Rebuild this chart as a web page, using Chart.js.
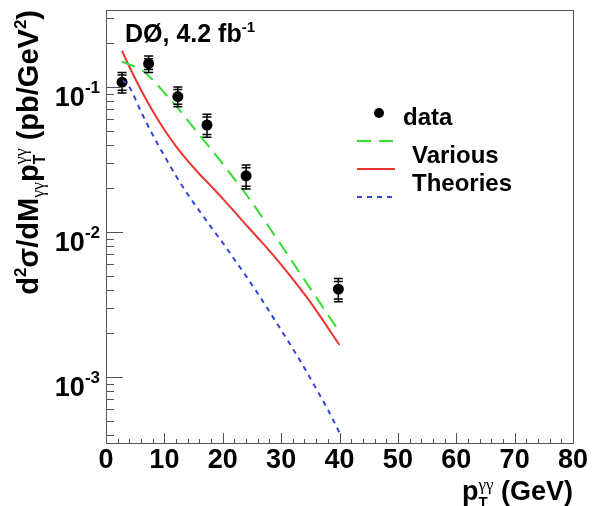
<!DOCTYPE html>
<html><head><meta charset="utf-8">
<script src="https://cdn.jsdelivr.net/npm/chart.js@4.4.1/dist/chart.umd.min.js"></script>
<style>html,body{margin:0;padding:0;background:#fff;}#wrap{width:598px;height:506px;}</style>
</head><body><div id="wrap"><canvas id="c" width="598" height="506"></canvas></div>
<script>
// ---- data ----
const curveX = [2.75, 4, 6, 8, 10, 12, 14, 16, 18, 20, 22, 24, 26, 28, 30, 32, 34, 36, 38, 40];
const greenY = [0.150, 0.143, 0.132, 0.112, 0.0912, 0.0741, 0.0589, 0.0468, 0.0372, 0.0295, 0.0232, 0.0182, 0.0140, 0.0107, 0.00813, 0.00617, 0.00468, 0.00355, 0.00269, 0.00204];
const redY = [0.178, 0.138, 0.0955, 0.0684, 0.0507, 0.0389, 0.0309, 0.0251, 0.0207, 0.0170, 0.0138, 0.0112, 0.00912, 0.00741, 0.00596, 0.00473, 0.00372, 0.00288, 0.00219, 0.00166];
const blueY = [0.112, 0.100, 0.0676, 0.0468, 0.0335, 0.0243, 0.0182, 0.0140, 0.0108, 0.00841, 0.00646, 0.00496, 0.00376, 0.00282, 0.00211, 0.00157, 0.00115, 0.00083, 0.000596, 0.000412];

const dataX = [2.75, 7.3, 12.3, 17.3, 24, 39.8];
const dataY = [0.108, 0.145, 0.086, 0.0547, 0.0244, 0.00403];
const totHi = [0.126, 0.164, 0.100, 0.065, 0.029, 0.00477];
const totLo = [0.091, 0.126, 0.073, 0.045, 0.0198, 0.0033];
const statHi = [0.121, 0.157, 0.096, 0.062, 0.0277, 0.00456];
const statLo = [0.095, 0.132, 0.076, 0.047, 0.0207, 0.00345];

const xMajor = [0, 10, 20, 30, 40, 50, 60, 70, 80];
const xTickLabels = ['0', '10', '20', '30', '40', '50', '60', '70', '80'];
const yMajor = [1e-3, 1e-2, 1e-1];
const yTickExp = ['-3', '-2', '-1'];
const legendLabels = ['data', 'Various', 'Theories'];
const expText = 'DØ, 4.2 fb';
const expSup = '-1';

const X_MIN = 0, X_MAX = 80, Y_MIN = 3.5e-4, Y_MAX = 0.34;

const F = 'Liberation Sans';
function rich(ctx, segs, x, y, align) {
  let w = 0;
  for (const s of segs) { ctx.font = s.f; s.w = ctx.measureText(s.t).width; w += (s.adv !== undefined ? s.adv : s.w); }
  let cx = align === 'right' ? x - w : (align === 'center' ? x - w / 2 : x);
  for (const s of segs) {
    ctx.font = s.f; ctx.fillText(s.t, cx, y + (s.dy || 0));
    cx += (s.adv !== undefined ? s.adv : s.w);
  }
}

const deco = {
  id: 'deco',
  afterDatasetsDraw(chart) {
    const ctx = chart.ctx, xs = chart.scales.x, ys = chart.scales.y, a = chart.chartArea;
    ctx.save();
    // error bars
    ctx.strokeStyle = '#000'; ctx.lineWidth = 1.5;
    for (let i = 0; i < dataX.length; i++) {
      const px = xs.getPixelForValue(dataX[i]);
      const yh = ys.getPixelForValue(totHi[i]), yl = ys.getPixelForValue(totLo[i]);
      const sh = ys.getPixelForValue(statHi[i]), sl = ys.getPixelForValue(statLo[i]);
      ctx.beginPath(); ctx.moveTo(px, yh); ctx.lineTo(px, yl);
      for (const yy of [yh, yl, sh, sl]) { ctx.moveTo(px - 4.5, yy); ctx.lineTo(px + 4.5, yy); }
      ctx.stroke();
    }
    // frame
    ctx.strokeStyle = '#555'; ctx.lineWidth = 1;
    ctx.strokeRect(Math.round(a.left) + 0.5, Math.round(a.top) + 0.5, Math.round(a.right - a.left), Math.round(a.bottom - a.top));
    // x ticks
    ctx.beginPath();
    for (let v = X_MIN; v <= X_MAX + 1e-9; v += 2) {
      const px = Math.round(xs.getPixelForValue(v)) + 0.5;
      const len = (v % 10 === 0) ? 10 : 4;
      ctx.moveTo(px, a.bottom); ctx.lineTo(px, a.bottom - len);
    }
    // y ticks
    for (let e = -4; e <= -1; e++) {
      for (let m = 1; m <= 9; m++) {
        const v = m * Math.pow(10, e);
        if (v < Y_MIN || v > Y_MAX) continue;
        const py = Math.round(ys.getPixelForValue(v)) + 0.5;
        const len = m === 1 ? 17 : 8;
        ctx.moveTo(a.left, py); ctx.lineTo(a.left + len, py);
      }
    }
    ctx.stroke();
    // tick labels
    ctx.fillStyle = '#000'; ctx.textBaseline = 'alphabetic';
    ctx.textAlign = 'left';
    xMajor.forEach((v, i) => {
      rich(ctx, [{t: xTickLabels[i], f: 'bold 27px ' + F}], xs.getPixelForValue(v), a.bottom + 25, 'center');
    });
    yMajor.forEach((v, i) => {
      const py = ys.getPixelForValue(v);
      rich(ctx, [{t: '10', f: 'bold 27px ' + F}, {t: yTickExp[i], f: 'bold 17px ' + F, dy: -13}], a.left - 6, py + 19, 'right');
    });
    // x title
    rich(ctx, [
      {t: 'p', f: 'bold 27px ' + F},
      {t: 'T', f: 'bold 15px ' + F, dy: 7, adv: 0},
      {t: 'γγ', f: '17px "Liberation Serif"', dy: -10},
      {t: ' (GeV)', f: 'bold 27px ' + F}
    ], a.right, 500, 'right');
    // y title (rotated)
    ctx.save();
    ctx.translate(38, a.top);
    ctx.rotate(-Math.PI / 2);
    rich(ctx, [
      {t: 'd', f: 'bold 29px ' + F},
      {t: '2', f: 'bold 17px ' + F, dy: -12},
      {t: 'σ/dM', f: 'bold 29px ' + F},
      {t: 'γγ', f: '18px "Liberation Serif"', dy: 6},
      {t: 'p', f: 'bold 29px ' + F},
      {t: 'T', f: 'bold 16px ' + F, dy: 7, adv: 0},
      {t: 'γγ', f: '18px "Liberation Serif"', dy: -11},
      {t: ' (pb/GeV', f: 'bold 29px ' + F},
      {t: '2', f: 'bold 17px ' + F, dy: -12},
      {t: ')', f: 'bold 29px ' + F}
    ], 0, 0, 'right');
    ctx.restore();
    // experiment label
    rich(ctx, [{t: expText, f: 'bold 25px ' + F}, {t: expSup, f: 'bold 15px ' + F, dy: -10}], 125, 42, 'left');
    // legend
    ctx.beginPath(); ctx.fillStyle = '#000'; ctx.arc(379, 113, 5, 0, 2 * Math.PI); ctx.fill();
    ctx.fillStyle = '#000';
    rich(ctx, [{t: legendLabels[0], f: 'bold 24px ' + F}], 403, 125, 'left');
    rich(ctx, [{t: legendLabels[1], f: 'bold 24px ' + F}], 412, 163, 'left');
    rich(ctx, [{t: legendLabels[2], f: 'bold 24px ' + F}], 412, 191, 'left');
    ctx.lineWidth = 2;
    const lg = [[141, '#33dd33', [14, 8]], [169, '#ee3333', []], [197, '#3344dd', [5, 5]]];
    for (const [yy, col, dash] of lg) {
      ctx.strokeStyle = col; ctx.setLineDash(dash);
      ctx.beginPath(); ctx.moveTo(357, yy); ctx.lineTo(395, yy); ctx.stroke();
    }
    ctx.setLineDash([]);
    ctx.restore();
  }
};

const pts = (xa, ya) => xa.map((x, i) => ({x: x, y: ya[i]}));

new Chart(document.getElementById('c'), {
  type: 'line',
  data: {
    datasets: [
      {label: 'Various', data: pts(curveX, greenY), borderColor: '#33dd33', borderWidth: 2, borderDash: [14, 8], pointRadius: 0, fill: false, cubicInterpolationMode: 'monotone'},
      {label: 'Theories (red)', data: pts(curveX, redY), borderColor: '#ee3333', borderWidth: 2, pointRadius: 0, fill: false, cubicInterpolationMode: 'monotone'},
      {label: 'Theories', data: pts(curveX, blueY), borderColor: '#3344dd', borderWidth: 2, borderDash: [5, 5], pointRadius: 0, fill: false, cubicInterpolationMode: 'monotone'},
      {label: 'data', data: pts(dataX, dataY), showLine: false, pointRadius: 5.5, pointBackgroundColor: '#000', pointBorderColor: '#000', pointBorderWidth: 0}
    ]
  },
  options: {
    responsive: false, animation: false,
    layout: {padding: {left: 106, right: 25, top: 10, bottom: 63}},
    scales: {
      x: {type: 'linear', min: X_MIN, max: X_MAX, display: false},
      y: {type: 'logarithmic', min: Y_MIN, max: Y_MAX, display: false}
    },
    plugins: {legend: {display: false}, tooltip: {enabled: false}}
  },
  plugins: [deco]
});
</script></body></html>
